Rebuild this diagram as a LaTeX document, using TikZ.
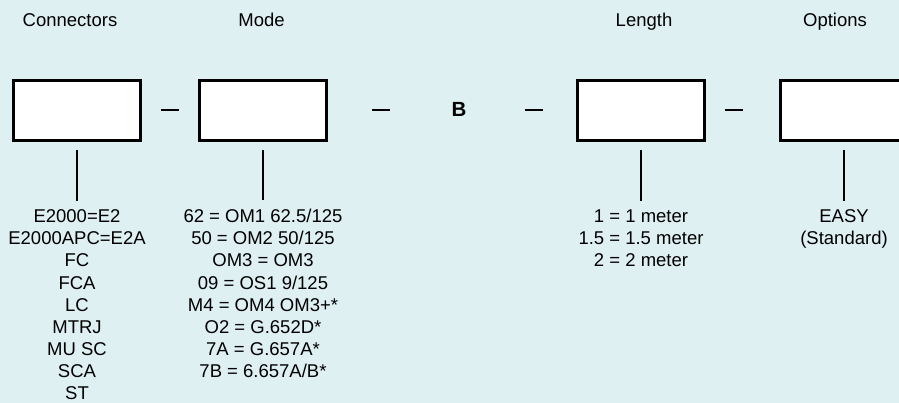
\documentclass[tikz,border=0pt]{standalone}
\usepackage{fontspec}
\setmainfont{Liberation Sans}
\definecolor{bgcyan}{RGB}{223,240,243}
\begin{document}
\begin{tikzpicture}[x=1pt,y=-1pt,
    field/.style={draw, fill=white, line width=2.6pt, minimum width=127pt, minimum height=60pt, inner sep=0pt},
    stem/.style={line width=2.4pt, shorten <=8pt, shorten >=6pt},
    sep/.style={line width=2pt},
    entry/.style={anchor=base, font=\fontsize{18.5}{22}\selectfont}]
    \useasboundingbox (0,0) rectangle (899,403);
    \fill[bgcyan] (0,0) rectangle (899,403);
    \clip (0,0) rectangle (899,403);
    \foreach \f/\x in {conn/77,mode/263,len/641,opt/844}
        \node[field] (\f) at (\x,110.5) {};
    \foreach \t/\x in {Connectors/70,Mode/261.5,Length/644,Options/835}
        \node[entry] (T\t) at (\x,27) {\t};
    \node[anchor=base, font=\fontsize{20.5}{24}\selectfont\bfseries] (code) at (459,117) {B};
    \foreach \x in {169.5,381,534,734}
        \draw[sep] (\x-9,110) -- (\x+9,110);
    \foreach \t [count=\i] in {E2000=E2,E2000APC=E2A,FC,FCA,LC,MTRJ,MU SC,SCA,ST}
        \node[entry] (C\i) at (77,201+22*\i) {\t};
    \foreach \t [count=\i] in {62 = OM1 62.5/125,50 = OM2 50/125,OM3 = OM3,09 = OS1 9/125,M4 = OM4 OM3+*,O2 = G.652D*,7A = G.657A*,7B = 6.657A/B*}
        \node[entry] (M\i) at (263,201+22*\i) {\t};
    \foreach \t [count=\i] in {1 = 1 meter,1.5 = 1.5 meter,2 = 2 meter}
        \node[entry] (L\i) at (641,201+22*\i) {\t};
    \foreach \t [count=\i] in {EASY,(Standard)}
        \node[entry] (O\i) at (844,201+22*\i) {\t};
    \draw[stem] (conn.south) -- (C1.north);
    \draw[stem] (mode.south) -- (M1.north);
    \draw[stem] (len.south) -- (L1.north);
    \draw[stem] (opt.south) -- (O1.north);
\end{tikzpicture}
\end{document}
